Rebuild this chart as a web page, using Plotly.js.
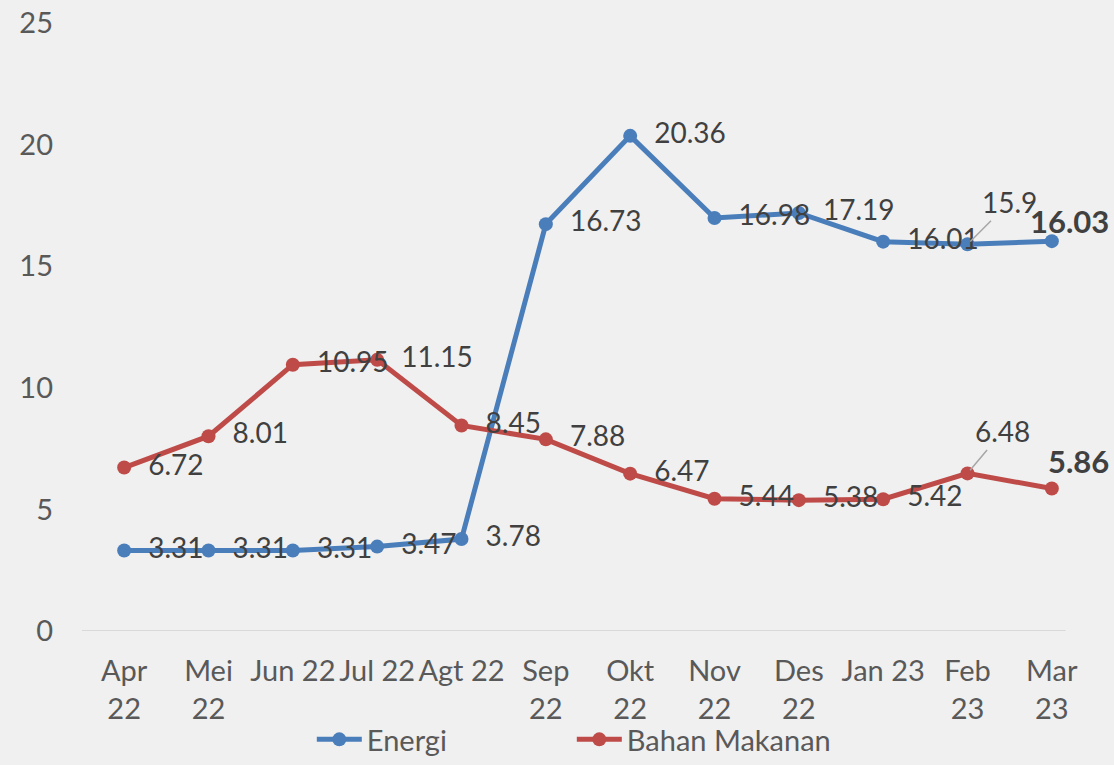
<!DOCTYPE html>
<html>
<head>
<meta charset="utf-8">
<script src="https://cdn.plot.ly/plotly-3.0.1.min.js"></script>
<style>html,body{margin:0;padding:0;background:#f0f0f0;}#chart{width:1114px;height:765px;}</style>
</head>
<body>
<div id="chart"></div>
<script>
const categories = ["Apr 22","Mei 22","Jun 22","Jul 22","Agt 22","Sep 22","Okt 22","Nov 22","Des 22","Jan 23","Feb 23","Mar 23"];
const tickLabels = ["Apr<br>22","Mei<br>22","Jun 22","Jul 22","Agt 22","Sep<br>22","Okt<br>22","Nov<br>22","Des<br>22","Jan 23","Feb<br>23","Mar<br>23"];
const energi = [3.31,3.31,3.31,3.47,3.78,16.73,20.36,16.98,17.19,16.01,15.9,16.03];
const bahanMakanan = [6.72,8.01,10.95,11.15,8.45,7.88,6.47,5.44,5.38,5.42,6.48,5.86];

const blue = "#4a7ebb", red = "#be4b48";
const fam = "Lato, 'Open Sans', sans-serif";
const labelFont = {family: fam, size: 28, color: "#404040"};
const n = categories.length;
const pad = "\u00a0\u00a0";

function inlineText(vals) {
  return vals.map((v, i) => (i >= n - 2 ? "" : pad + String(v)));
}

const traces = [
  {
    x: categories, y: energi, name: "Energi", type: "scatter", mode: "lines+markers+text",
    line: {color: blue, width: 5}, marker: {color: blue, size: 14},
    text: inlineText(energi), textposition: "middle right", textfont: labelFont,
    cliponaxis: false, hoverinfo: "skip"
  },
  {
    x: categories, y: bahanMakanan, name: "Bahan Makanan", type: "scatter", mode: "lines+markers+text",
    line: {color: red, width: 5}, marker: {color: red, size: 14},
    text: inlineText(bahanMakanan), textposition: "middle right", textfont: labelFont,
    cliponaxis: false, hoverinfo: "skip"
  }
];

const annotations = [
  {x: categories[n-2], y: energi[n-2], text: String(energi[n-2]), showarrow: true, arrowhead: 0, arrowwidth: 1.5, arrowcolor: "#a6a6a6", ax: 42, ay: -42, font: labelFont, standoff: 4},
  {x: categories[n-2], y: bahanMakanan[n-2], text: bahanMakanan[n-2].toFixed(2), showarrow: true, arrowhead: 0, arrowwidth: 1.5, arrowcolor: "#a6a6a6", ax: 35, ay: -42, font: labelFont, standoff: 4},
  {x: categories[n-1], y: energi[n-1], text: "<b>" + energi[n-1].toFixed(2) + "</b>", showarrow: false, xshift: 18, yshift: 20, font: Object.assign({}, labelFont, {size: 31})},
  {x: categories[n-1], y: bahanMakanan[n-1], text: "<b>" + bahanMakanan[n-1].toFixed(2) + "</b>", showarrow: false, xshift: 27, yshift: 27, font: Object.assign({}, labelFont, {size: 31})}
];

const layout = {
  width: 1114, height: 765,
  paper_bgcolor: "#f0f0f0", plot_bgcolor: "#f0f0f0",
  margin: {l: 82, r: 20, t: 23, b: 0},
  font: {family: fam, size: 29, color: "#595959"},
  showlegend: true,
  legend: {orientation: "h", x: 0.484, xanchor: "center", y: 0, yanchor: "bottom", font: {size: 29, color: "#595959"}, bgcolor: "rgba(0,0,0,0)", entrywidth: 200, itemwidth: 45},
  xaxis: {
    type: "category", tickvals: categories, ticktext: tickLabels, range: [-0.5, n - 0.5], automargin: false,
    showgrid: false, zeroline: false, showline: false, ticks: "", ticklabelstandoff: 20,
    tickfont: {size: 29, color: "#595959"}, fixedrange: true
  },
  yaxis: {
    range: [0, 25], tickvals: [0,5,10,15,20,25], showgrid: false, zeroline: false, showline: false, automargin: false,
    domain: [134/742, 1],
    ticks: "", ticklabelstandoff: 28, tickfont: {size: 29, color: "#595959"}, fixedrange: true
  },
  shapes: [
    {type: "line", xref: "paper", yref: "y", x0: 0, x1: 0.972, y0: 0, y1: 0, line: {color: "#d9d9d9", width: 2}}
  ],
  annotations: annotations
};

Plotly.newPlot("chart", traces, layout, {displayModeBar: false, staticPlot: true});
</script>
</body>
</html>
